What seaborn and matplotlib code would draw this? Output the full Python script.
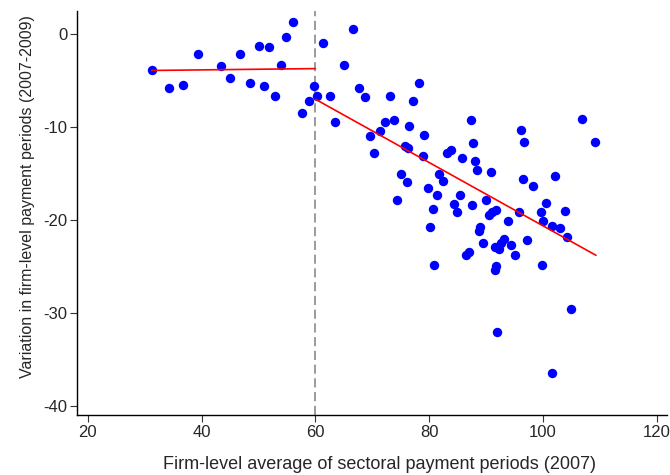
import numpy as np
import pandas as pd
import matplotlib
matplotlib.use("Agg")
import matplotlib.pyplot as plt
import seaborn as sns

# Firm-level average of sectoral payment periods (2007)
x_vals = [31.2, 34.2, 36.8, 39.4, 43.4, 45.0, 46.8, 48.5, 50.0, 51.8, 50.9, 52.9,
          53.9, 54.9, 56.0, 57.6, 58.8, 59.7, 60.3, 61.3, 62.5, 63.5, 65.1, 66.6,
          67.6, 68.7, 69.6, 70.3, 71.3, 72.3, 73.1, 73.8, 75.0, 74.4, 76.1, 75.7,
          76.3, 76.5, 77.2, 78.2, 79.1, 78.9, 79.7, 81.3, 81.8, 82.5, 83.1, 83.8,
          85.7, 87.3, 87.7, 88.1, 88.4, 90.8, 85.4, 89.9, 80.6, 84.3, 84.9, 87.5,
          90.5, 91.1, 91.8, 80.2, 88.7, 88.9, 89.5, 91.6, 92.2, 92.6, 93.1, 86.4,
          87.0, 80.9, 91.5, 91.7, 91.9, 99.9, 104.9, 101.6, 96.1, 96.7, 106.8, 109.2,
          96.4, 98.2, 102.1, 93.8, 95.7, 99.6, 100.5, 100.0, 101.5, 102.9, 103.8,
          104.3, 94.4, 95.0, 97.2]
# Variation in firm-level payment periods (2007-2009)
y_vals = [-3.9, -5.8, -5.5, -2.1, -3.4, -4.7, -2.1, -5.3, -1.3, -1.4, -5.6, -6.6,
          -3.3, -0.25, 1.3, -8.5, -7.2, -5.6, -6.7, -0.9, -6.7, -9.4, -3.3, 0.6,
          -5.8, -6.8, -11.0, -12.8, -10.4, -9.5, -6.6, -9.2, -15.1, -17.8, -15.9, -12.0,
          -12.2, -9.9, -7.2, -5.3, -10.8, -13.1, -16.6, -17.3, -15.0, -15.8, -12.8, -12.5,
          -13.3, -9.2, -11.7, -13.7, -14.6, -14.8, -17.3, -17.8, -18.8, -18.3, -19.1, -18.4,
          -19.5, -19.1, -18.9, -20.8, -21.2, -20.8, -22.5, -22.9, -23.1, -22.5, -22.0, -23.8,
          -23.4, -24.8, -25.4, -25.0, -32.1, -24.8, -29.6, -36.5, -10.3, -11.6, -9.1, -11.6,
          -15.6, -16.3, -15.3, -20.1, -19.1, -19.1, -18.2, -20.1, -20.7, -20.9, -19.0,
          -21.8, -22.7, -23.8, -22.2]

# fitted lines on each side of the cutoff
fit_left_x = [31.2, 60.0]
fit_left_y = [-3.9, -3.7]
fit_right_x = [60.0, 109.3]
fit_right_y = [-7.0, -23.8]

cutoff = 60
x_ticks = [20, 40, 60, 80, 100, 120]
y_ticks = [0, -10, -20, -30, -40]
x_label = "Firm-level average of sectoral payment periods (2007)"
y_label = "Variation in firm-level payment periods (2007-2009)"

df = pd.DataFrame({"x": x_vals, "y": y_vals})

sns.set_theme(style="white")
plt.rcParams["font.family"] = ["Liberation Sans", "DejaVu Sans"]
plt.rcParams["axes.unicode_minus"] = False

fig = plt.figure(figsize=(6.7, 4.75), dpi=100)
ax = fig.add_axes([0.115, 0.1263, 0.8806, 0.8505])

sns.scatterplot(data=df, x="x", y="y", ax=ax, color="#0000ff", s=46,
                linewidth=0, zorder=3)

for fx, fy in [(fit_left_x, fit_left_y), (fit_right_x, fit_right_y)]:
    fit = pd.DataFrame({"x": fx, "y": fy})
    sns.lineplot(data=fit, x="x", y="y", ax=ax, color="#ff0000", linewidth=1.2,
                 zorder=4)

ax.axvline(cutoff, color="#808080", linestyle=(0, (6, 3)), linewidth=1.1, zorder=2)

ax.set_xlim(18.1, 121.8)
ax.set_ylim(-41.0, 2.5)
ax.set_xticks(x_ticks)
ax.set_yticks(y_ticks)
ax.set_xticklabels([str(t) for t in x_ticks])
ax.set_yticklabels([str(t) for t in y_ticks])
ax.set_xlabel(x_label, fontsize=13)
ax.set_ylabel(y_label, fontsize=11.5)
ax.xaxis.set_label_coords(0.513, -0.102)
ax.yaxis.set_label_coords(-0.072, 0.54)
ax.tick_params(axis="both", which="major", labelsize=12, length=5, width=0.8,
               color="#333333", direction="out", bottom=True, left=True, pad=2)
for side in ["top", "right"]:
    ax.spines[side].set_visible(False)
for side in ["left", "bottom"]:
    ax.spines[side].set_color("black")
    ax.spines[side].set_linewidth(1.0)

fig.savefig("out.png", dpi=100)
